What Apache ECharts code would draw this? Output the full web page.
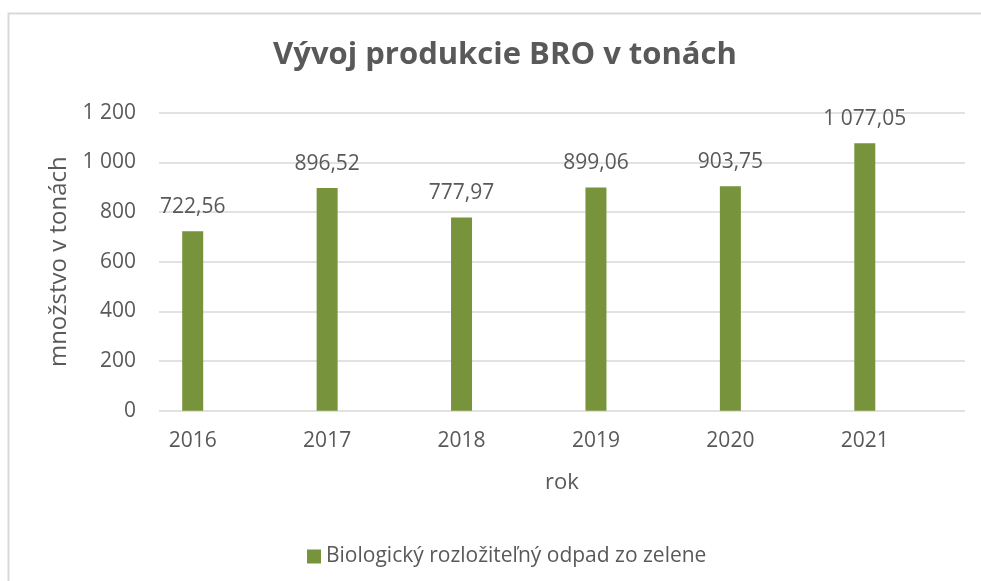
<!DOCTYPE html>
<html>
<head>
<meta charset="utf-8">
<script src="https://cdn.jsdelivr.net/npm/echarts@6/dist/echarts.min.js"></script>
<style>
html,body{margin:0;padding:0;background:#fff;}
#chart{width:981px;height:581px;}
</style>
</head>
<body>
<div id="chart"></div>
<script>
const categories = ['2016', '2017', '2018', '2019', '2020', '2021'];
const values = [722.56, 896.52, 777.97, 899.06, 903.75, 1077.05];
const seriesName = 'Biologický rozložiteľný odpad zo zelene';
const titleText = 'Vývoj produkcie BRO v tonách';
const yAxisName = 'množstvo v tonách';
const xAxisName = 'rok';
const yMin = 0, yMax = 1200, yStep = 200;

function sk(n, dec) {
  const s = n.toFixed(dec);
  const parts = s.split('.');
  const intPart = parts[0].replace(/\B(?=(\d{3})+(?!\d))/g, ' ');
  return parts.length > 1 ? intPart + ',' + parts[1] : intPart;
}

const FONT = 'Open Sans';
const TXT = '#595959';
const chart = echarts.init(document.getElementById('chart'));
chart.setOption({
  animation: false,
  textStyle: { fontFamily: FONT },
  title: {
    text: titleText,
    left: 500, top: 35, textAlign: 'center',
    textStyle: { fontFamily: FONT, fontWeight: 'bold', fontSize: 31, color: TXT }
  },
  graphic: [{
    type: 'rect', silent: true,
    shape: { x: 8.5, y: 13.5, width: 1000, height: 600 },
    style: { fill: 'none', stroke: '#d9d9d9', lineWidth: 2 }
  }],
  legend: {
    data: [seriesName],
    left: 302, top: 541,
    itemWidth: 14, itemHeight: 14, itemGap: 6,
    icon: 'rect',
    textStyle: { fontFamily: FONT, fontSize: 21, color: TXT }
  },
  grid: [
    { left: 159, right: 16, top: 112.7, bottom: 170.3 },
    { left: 125.5, right: 49, top: 112.7, bottom: 170.3 }
  ],
  xAxis: [
    {
      gridIndex: 0, type: 'category', data: categories,
      axisLine: { show: false }, axisTick: { show: false }, axisLabel: { show: false },
      name: xAxisName, nameLocation: 'middle', nameGap: 61,
      nameTextStyle: { fontFamily: FONT, fontSize: 22, color: TXT }
    },
    {
      gridIndex: 1, type: 'category', data: categories,
      axisLine: { show: false }, axisTick: { show: false },
      axisLabel: { margin: 20, fontFamily: FONT, fontSize: 21, color: TXT }
    }
  ],
  yAxis: [
    {
      gridIndex: 0, type: 'value', min: yMin, max: yMax, interval: yStep,
      axisLine: { show: false }, axisTick: { show: false },
      splitLine: { lineStyle: { color: '#d9d9d9', width: 1.5 } },
      axisLabel: { margin: 23, fontFamily: FONT, fontSize: 21, color: TXT, formatter: v => sk(v, 0) },
      name: yAxisName, nameLocation: 'middle', nameGap: 80,
      nameTextStyle: { fontFamily: FONT, fontSize: 24, color: TXT }
    },
    {
      gridIndex: 1, type: 'value', min: yMin, max: yMax, interval: yStep, show: false
    }
  ],
  series: [{
    name: seriesName, type: 'bar', xAxisIndex: 1, yAxisIndex: 1,
    data: values, barWidth: 21,
    itemStyle: { color: '#77933C' },
    label: {
      show: true, position: 'top', distance: 14,
      fontFamily: FONT, fontSize: 21, color: TXT,
      formatter: p => sk(p.value, 2)
    }
  }]
});
</script>
</body>
</html>
